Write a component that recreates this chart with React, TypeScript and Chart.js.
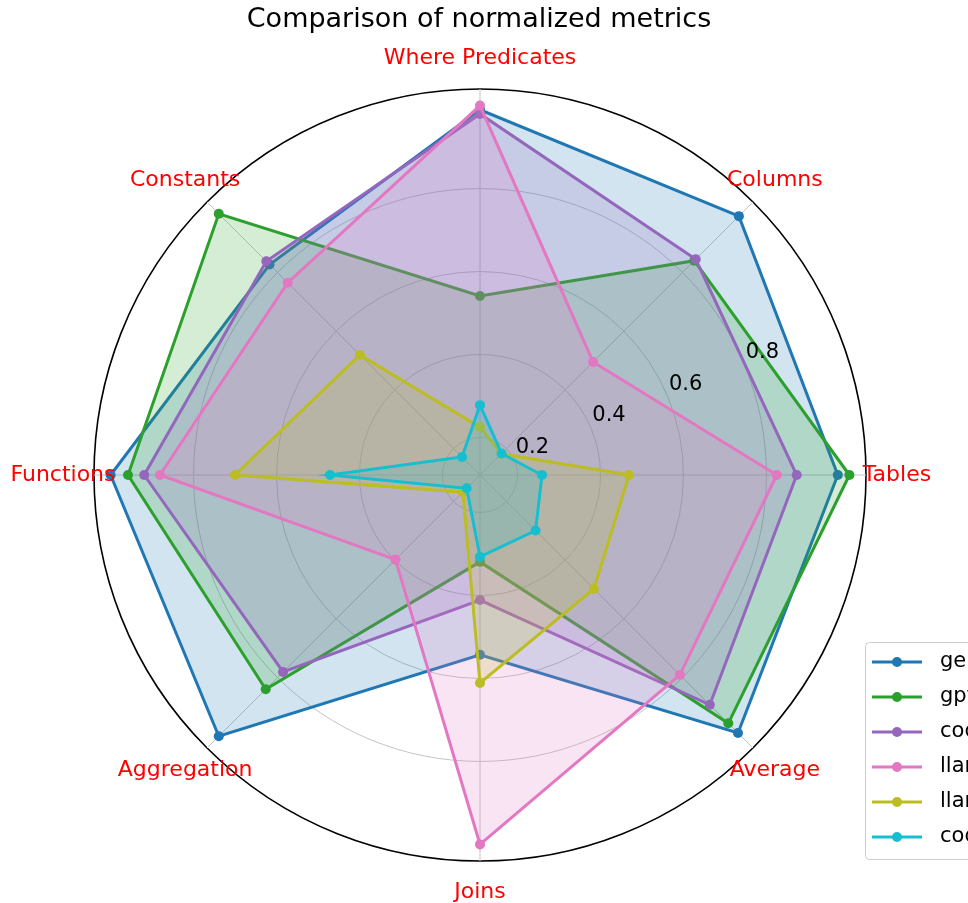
import React, { useEffect, useRef } from 'react';
import { Chart, registerables } from 'chart.js';

Chart.register(...registerables);

// Categories in the order matplotlib lays them out (counter-clockwise from the right)
const CATEGORIES = ['Tables', 'Columns', 'Where Predicates', 'Constants', 'Functions', 'Aggregation', 'Joins', 'Average'];
const SERIES_NAMES = ['gemini-1.5-pro', 'gpt-4o', 'codestral-22b', 'llama-3.1-70b', 'llama-3.1-8b', 'codellama-7b'];
const COLORS = ['#1f77b4', '#2ca02c', '#9467bd', '#e377c2', '#bcbd22', '#17becf'];

const GEMINI = [0.972, 0.992, 0.99, 0.827, 1.0, 1.0, 0.543, 0.989];
const GPT = [1.0, 0.84, 0.541, 1.0, 0.958, 0.84, 0.319, 0.956];
const CODESTRAL = [0.873, 0.845, 0.98, 0.838, 0.919, 0.781, 0.411, 0.893];
const LLAMA_70B = [0.825, 0.495, 1.0, 0.765, 0.881, 0.398, 1.0, 0.791];
const LLAMA_8B = [0.469, 0.182, 0.225, 0.519, 0.7, 0.168, 0.611, 0.498];
const CODELLAMA = [0.259, 0.183, 0.278, 0.171, 0.471, 0.155, 0.307, 0.299];

const TICK_VALUES = [0.2, 0.4, 0.6, 0.8];
const TICK_LABELS = ['0.2', '0.4', '0.6', '0.8'];
const R_MIN = 0.1096;
const R_MAX = 1.04;

const TITLE = 'Comparison of normalized metrics';
const FONT = '"DejaVu Sans", sans-serif';

// Chart.js goes clockwise from its start angle; matplotlib goes counter-clockwise.
const toClockwise = <T,>(arr: T[]): T[] => [arr[0], ...arr.slice(1).reverse()];

const SERIES = [GEMINI, GPT, CODESTRAL, LLAMA_70B, LLAMA_8B, CODELLAMA];

function hexToRgba(hex: string, a: number) {
  const n = parseInt(hex.slice(1), 16);
  return `rgba(${(n >> 16) & 255}, ${(n >> 8) & 255}, ${n & 255}, ${a})`;
}

const overlayPlugin = {
  id: 'overlay',
  afterDraw(chart: any) {
    const ctx: CanvasRenderingContext2D = chart.ctx;
    const scale = chart.scales.r;
    const labels: string[] = chart.data.labels;
    ctx.save();

    // Title
    ctx.fillStyle = '#000000';
    ctx.font = `27px ${FONT}`;
    ctx.textAlign = 'center';
    ctx.textBaseline = 'middle';
    ctx.fillText(TITLE, 479, 20);

    // Category labels
    ctx.font = `22px ${FONT}`;
    ctx.fillStyle = '#ff0000';
    labels.forEach((lab, i) => {
      const p = scale.getPointPosition(i, scale.drawingArea + 31);
      ctx.fillText(lab, p.x, p.y);
    });

    // Radial tick labels at 22.5 degrees
    ctx.font = `21px ${FONT}`;
    ctx.fillStyle = '#000000';
    ctx.textAlign = 'left';
    const ang = (22.5 * Math.PI) / 180;
    TICK_VALUES.forEach((v, i) => {
      const d = scale.getDistanceFromCenterForValue(v);
      const x = scale.xCenter + d * Math.cos(ang);
      const y = scale.yCenter - d * Math.sin(ang);
      ctx.fillText(TICK_LABELS[i], x + 1, y - 13);
    });

    // Legend (clipped by the canvas edge as in the reference)
    const lx = 865.5, ly = 642.5, lw = 200, lh = 217, rr = 4;
    ctx.beginPath();
    ctx.moveTo(lx + rr, ly);
    ctx.lineTo(lx + lw - rr, ly);
    ctx.arcTo(lx + lw, ly, lx + lw, ly + rr, rr);
    ctx.lineTo(lx + lw, ly + lh - rr);
    ctx.arcTo(lx + lw, ly + lh, lx + lw - rr, ly + lh, rr);
    ctx.lineTo(lx + rr, ly + lh);
    ctx.arcTo(lx, ly + lh, lx, ly + lh - rr, rr);
    ctx.lineTo(lx, ly + rr);
    ctx.arcTo(lx, ly, lx + rr, ly, rr);
    ctx.closePath();
    ctx.fillStyle = 'rgba(255,255,255,0.8)';
    ctx.fill();
    ctx.strokeStyle = '#cccccc';
    ctx.lineWidth = 1;
    ctx.stroke();

    chart.data.datasets.forEach((ds: any, i: number) => {
      const y = 662 + i * 35;
      ctx.strokeStyle = ds.borderColor;
      ctx.lineWidth = 3;
      ctx.beginPath();
      ctx.moveTo(872, y);
      ctx.lineTo(922, y);
      ctx.stroke();
      ctx.fillStyle = ds.borderColor;
      ctx.beginPath();
      ctx.arc(897, y, 5, 0, Math.PI * 2);
      ctx.fill();
      ctx.fillStyle = '#000000';
      ctx.font = `21px ${FONT}`;
      ctx.textAlign = 'left';
      ctx.textBaseline = 'middle';
      ctx.fillText(ds.label, 940, y);
    });

    ctx.restore();
  },
};

export default function App() {
  const canvasRef = useRef<HTMLCanvasElement | null>(null);

  useEffect(() => {
    const canvas = canvasRef.current;
    if (!canvas) return;
    const datasets = SERIES.map((values, i) => ({
      label: SERIES_NAMES[i],
      data: toClockwise(values),
      borderColor: COLORS[i],
      backgroundColor: hexToRgba(COLORS[i], 0.2),
      borderWidth: 3,
      pointRadius: 5,
      pointHoverRadius: 5,
      pointBackgroundColor: COLORS[i],
      pointBorderColor: COLORS[i],
      pointBorderWidth: 0,
      fill: true,
      order: SERIES.length - i,
    }));
    const allTicks = [R_MIN, ...TICK_VALUES, R_MAX];
    const chart = new Chart(canvas, {
      type: 'radar',
      data: { labels: toClockwise(CATEGORIES), datasets },
      options: {
        animation: false,
        responsive: false,
        devicePixelRatio: 1,
        layout: { padding: { left: 94, top: 89, right: 102, bottom: 42 } },
        plugins: {
          legend: { display: false },
          tooltip: { enabled: false },
          title: { display: false },
        },
        elements: { line: { tension: 0 } },
        scales: {
          r: {
            startAngle: 90,
            min: R_MIN,
            max: R_MAX,
            beginAtZero: false,
            afterBuildTicks: (s: any) => {
              s.ticks = allTicks.map((v) => ({ value: v }));
            },
            ticks: { display: false },
            pointLabels: { display: false },
            grid: {
              circular: true,
              color: (c: any) => (c.index === allTicks.length - 1 ? '#000000' : '#c4c4c4'),
              lineWidth: (c: any) => (c.index === allTicks.length - 1 ? 1.6 : 1),
            },
            angleLines: { color: '#c4c4c4', lineWidth: 1 },
          },
        },
      } as any,
      plugins: [overlayPlugin],
    });
    return () => chart.destroy();
  }, []);

  return (
    <div style={{ position: 'fixed', left: 0, top: 0, width: 968, height: 903, background: '#ffffff' }}>
      <canvas ref={canvasRef} width={968} height={903} style={{ width: 968, height: 903, display: 'block' }} />
    </div>
  );
}
